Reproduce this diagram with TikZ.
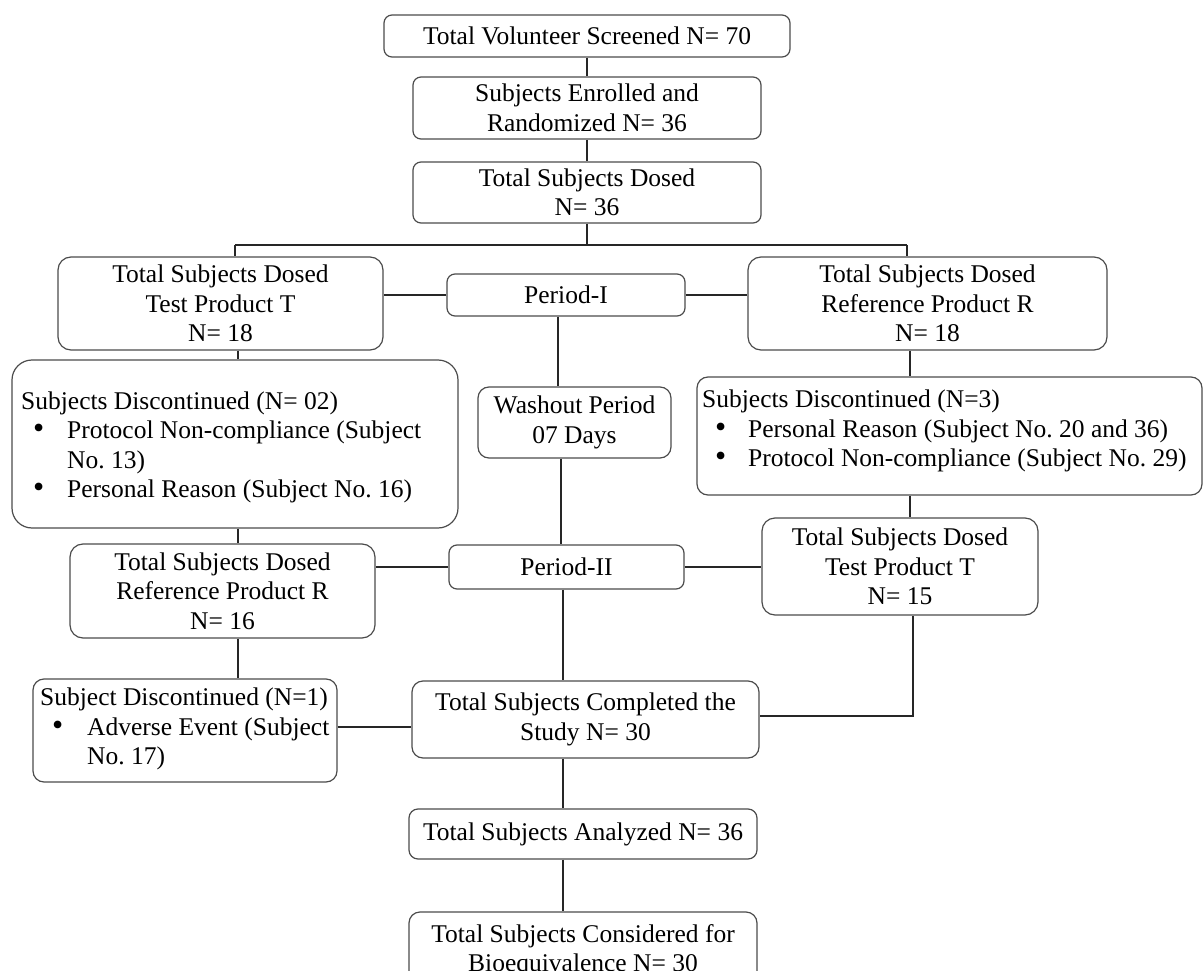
\documentclass[tikz,border=0pt]{standalone}
\usepackage{fontspec}
\setmainfont{Liberation Serif}
\frenchspacing
\begin{document}
\begin{tikzpicture}[x=1pt,y=-1pt,
  box/.style={draw=black!70, line width=1.2pt, rounded corners=#1, align=center,
    inner xsep=2pt, inner ysep=1pt, font=\fontsize{25.5}{29.5}\selectfont, text=black},
  box/.default=8pt,
  txt/.style={anchor=west, align=left, inner sep=0pt, font=\fontsize{25.5}{29.5}\selectfont, text=black},
  conn/.style={draw=black!85, line width=1.3pt}]
\useasboundingbox (0,0) rectangle (1203,971);
\newcommand{\bitem}[2]{\makebox[#1pt][l]{\hspace{#2pt}\scalebox{1.25}{\textbullet}}}

% main column
\node[box, minimum width=406pt, minimum height=42pt] (screen) at (587,36) {Total Volunteer Screened N= 70};
\node[box, minimum width=348pt, minimum height=62pt] (enrol) at (587,108) {Subjects Enrolled and\\Randomized N= 36};
\node[box, minimum width=348pt, minimum height=61pt] (dosed) at (587,192.5) {Total Subjects Dosed\\N= 36};

% period I row
\node[box=13pt, minimum width=325pt, minimum height=93pt] (testT) at (220.5,303.5) {Total Subjects Dosed\\Test Product T\\N= 18};
\node[box, minimum width=238pt, minimum height=42pt] (p1) at (566,295) {Period-I};
\node[box=13pt, minimum width=359pt, minimum height=93pt] (refR) at (927.5,303.5) {Total Subjects Dosed\\Reference Product R\\N= 18};

% discontinued after period I
\node[box=20pt, minimum width=446pt, minimum height=168pt] (discL) at (235,444) {};
\node[txt] (discLt) at (21,447.5)
  {Subjects Discontinued (N= 02)\\
   \bitem{46}{12}Protocol Non-compliance (Subject\\
   \hspace*{46pt}No. 13)\\
   \bitem{46}{12}Personal Reason (Subject No. 16)};
\node[box=11pt, minimum width=505pt, minimum height=118pt] (discR) at (949.5,436) {};
\node[txt] (discRt) at (702,431)
  {Subjects Discontinued (N=3)\\
   \bitem{46}{13}Personal Reason (Subject No. 20 and 36)\\
   \bitem{46}{13}Protocol Non-compliance (Subject No. 29)};
\node[box=11pt, minimum width=193pt, minimum height=71pt] (wash) at (574.5,422.5) {Washout Period\\07 Days};

% period II row
\node[box=13pt, minimum width=305pt, minimum height=94pt] (refR16) at (222.5,591) {Total Subjects Dosed\\Reference Product R\\N= 16};
\node[box, minimum width=235pt, minimum height=44pt] (p2) at (566.5,567) {Period-II};
\node[box=13pt, minimum width=276pt, minimum height=97pt] (testT15) at (900,566.5) {Total Subjects Dosed\\Test Product T\\N= 15};

% after period II
\node[box=11pt, minimum width=304pt, minimum height=103pt] (discL2) at (185,730.5) {};
\node[txt] (discL2t) at (40,729)
  {Subject Discontinued (N=1)\\
   \bitem{47}{12}Adverse Event (Subject\\
   \hspace*{47pt}No. 17)};
\node[box=11pt, minimum width=347pt, minimum height=77pt] (completed) at (585.5,719.5) {Total Subjects Completed the\\Study N= 30};
\node[box=9pt, minimum width=348pt, minimum height=50pt] (analyzed) at (583,834) {Total Subjects Analyzed N= 36};
\node[box=11pt, minimum width=348pt, minimum height=77pt] (consid) at (583,950.5) {Total Subjects Considered for\\Bioequivalence N= 30};

% helper coordinates
\coordinate (jL) at (235,245);
\coordinate (jR) at (907,245);
\coordinate (xL) at (238,0);
\coordinate (xR) at (910,0);
\coordinate (xM1) at (558,0);
\coordinate (xM2) at (561,0);
\coordinate (xM3) at (563,0);
\coordinate (xT) at (913,0);
\coordinate (yC) at (0,727);

% connectors
\draw[conn] (screen.south) -- (enrol.north);
\draw[conn] (enrol.south) -- (dosed.north);
\draw[conn] (dosed.south) -- (dosed.south |- jL);
\draw[conn] (jL) -- (jR);
\draw[conn] (jL) -- (jL |- testT.north);
\draw[conn] (jR) -- (jR |- refR.north);
\draw[conn] (p1.west) -- (p1.west -| testT.east);
\draw[conn] (p1.east) -- (p1.east -| refR.west);
\draw[conn] (testT.south -| xL) -- (discL.north -| xL);
\draw[conn] (refR.south -| xR) -- (discR.north -| xR);
\draw[conn] (p1.south -| xM1) -- (wash.north -| xM1);
\draw[conn] (wash.south -| xM2) -- (p2.north -| xM2);
\draw[conn] (discL.south -| xL) -- (refR16.north -| xL);
\draw[conn] (discR.south -| xR) -- (testT15.north -| xR);
\draw[conn] (p2.west) -- (p2.west -| refR16.east);
\draw[conn] (p2.east) -- (p2.east -| testT15.west);
\draw[conn] (refR16.south -| xL) -- (discL2.north -| xL);
\draw[conn] (discL2.east |- yC) -- (completed.west |- yC);
\draw[conn] (p2.south -| xM3) -- (completed.north -| xM3);
\draw[conn] (testT15.south -| xT) |- ([yshift=3.5pt]completed.east);
\draw[conn] (completed.south -| xM3) -- (analyzed.north -| xM3);
\draw[conn] (analyzed.south -| xM3) -- (consid.north -| xM3);
\end{tikzpicture}
\end{document}
